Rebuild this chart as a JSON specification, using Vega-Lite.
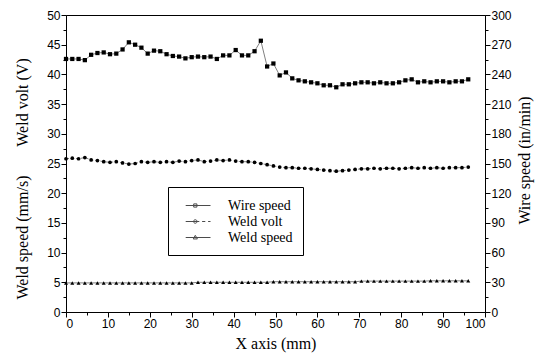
{
"$schema": "https://vega.github.io/schema/vega-lite/v6.json",
"autosize": "none",
"padding": {"left": 66, "top": 15, "right": 52, "bottom": 51},
"width": 419,
"height": 297,
"background": "white",
"config": {
  "view": {"stroke": "black", "strokeWidth": 1},
  "axis": {"domainColor": "black", "tickColor": "black", "labelColor": "black", "titleColor": "black", "labelFont": "Liberation Sans", "labelFontSize": 12, "titleFont": "Liberation Serif", "titleFontSize": 16, "titleFontWeight": "normal", "grid": false, "domainWidth": 1, "tickWidth": 1}
},
"data": {"values": [
{"x":0,"wire":255.6,"volt":25.8,"speed":4.9},
{"x":1.5,"wire":255.6,"volt":25.9,"speed":4.9},
{"x":3,"wire":255.6,"volt":25.8,"speed":4.9},
{"x":4.5,"wire":254.4,"volt":26.0,"speed":4.9},
{"x":6,"wire":259.8,"volt":25.6,"speed":4.9},
{"x":7.5,"wire":261.6,"volt":25.5,"speed":4.9},
{"x":9,"wire":262.2,"volt":25.3,"speed":4.9},
{"x":10.5,"wire":260.4,"volt":25.2,"speed":4.9},
{"x":12,"wire":261,"volt":25.3,"speed":4.9},
{"x":13.5,"wire":265.2,"volt":25.1,"speed":4.9},
{"x":15,"wire":272.4,"volt":24.9,"speed":4.9},
{"x":16.5,"wire":270,"volt":25.0,"speed":4.9},
{"x":18,"wire":267,"volt":25.3,"speed":4.9},
{"x":19.5,"wire":261,"volt":25.2,"speed":4.9},
{"x":21,"wire":264,"volt":25.3,"speed":4.9},
{"x":22.5,"wire":263.4,"volt":25.2,"speed":4.9},
{"x":24,"wire":260.4,"volt":25.3,"speed":4.9},
{"x":25.5,"wire":258.6,"volt":25.2,"speed":4.9},
{"x":27,"wire":258,"volt":25.4,"speed":4.9},
{"x":28.5,"wire":256.2,"volt":25.3,"speed":4.9},
{"x":30,"wire":257.4,"volt":25.5,"speed":4.9},
{"x":31.5,"wire":258,"volt":25.6,"speed":5.0},
{"x":33,"wire":257.4,"volt":25.3,"speed":5.0},
{"x":34.5,"wire":258,"volt":25.4,"speed":5.0},
{"x":36,"wire":255.6,"volt":25.6,"speed":5.0},
{"x":37.5,"wire":259.2,"volt":25.5,"speed":5.0},
{"x":39,"wire":259.2,"volt":25.6,"speed":5.0},
{"x":40.5,"wire":264.6,"volt":25.4,"speed":5.0},
{"x":42,"wire":259.2,"volt":25.3,"speed":5.0},
{"x":43.5,"wire":259.2,"volt":25.3,"speed":5.0},
{"x":45,"wire":263.4,"volt":25.2,"speed":5.0},
{"x":46.5,"wire":274,"volt":25.0,"speed":5.0},
{"x":48,"wire":248,"volt":24.8,"speed":5.0},
{"x":49.5,"wire":251,"volt":24.6,"speed":5.1},
{"x":51,"wire":239,"volt":24.4,"speed":5.1},
{"x":52.5,"wire":242,"volt":24.3,"speed":5.1},
{"x":54,"wire":236,"volt":24.3,"speed":5.1},
{"x":55.5,"wire":234,"volt":24.2,"speed":5.1},
{"x":57,"wire":233,"volt":24.2,"speed":5.1},
{"x":58.5,"wire":232,"volt":24.1,"speed":5.1},
{"x":60,"wire":231,"volt":24.0,"speed":5.1},
{"x":61.5,"wire":229,"volt":23.9,"speed":5.1},
{"x":63,"wire":229,"volt":23.8,"speed":5.1},
{"x":64.5,"wire":227,"volt":23.7,"speed":5.1},
{"x":66,"wire":230,"volt":23.8,"speed":5.1},
{"x":67.5,"wire":230,"volt":23.9,"speed":5.1},
{"x":69,"wire":231,"volt":24.0,"speed":5.1},
{"x":70.5,"wire":232,"volt":24.1,"speed":5.2},
{"x":72,"wire":232,"volt":24.1,"speed":5.2},
{"x":73.5,"wire":231,"volt":24.2,"speed":5.2},
{"x":75,"wire":232,"volt":24.1,"speed":5.2},
{"x":76.5,"wire":231,"volt":24.2,"speed":5.2},
{"x":78,"wire":231,"volt":24.2,"speed":5.2},
{"x":79.5,"wire":232,"volt":24.1,"speed":5.2},
{"x":81,"wire":234,"volt":24.2,"speed":5.2},
{"x":82.5,"wire":235,"volt":24.3,"speed":5.2},
{"x":84,"wire":232,"volt":24.2,"speed":5.2},
{"x":85.5,"wire":233,"volt":24.3,"speed":5.2},
{"x":87,"wire":232,"volt":24.2,"speed":5.25},
{"x":88.5,"wire":233,"volt":24.3,"speed":5.25},
{"x":90,"wire":233,"volt":24.2,"speed":5.25},
{"x":91.5,"wire":232,"volt":24.3,"speed":5.25},
{"x":93,"wire":233,"volt":24.3,"speed":5.25},
{"x":94.5,"wire":233,"volt":24.3,"speed":5.25},
{"x":96,"wire":235,"volt":24.4,"speed":5.25}
]},
"encoding": {
  "x": {"field": "x", "type": "quantitative", "scale": {"domain": [0, 100], "nice": false},
    "axis": {"values": [0,5,10,15,20,25,30,35,40,45,50,55,60,65,70,75,80,85,90,95,100], "format": "d",
      "labelExpr": "datum.value % 10 === 0 ? datum.label : ''",
      "tickSize": {"condition": {"test": "datum.value % 10 !== 0", "value": 3}, "value": 5},
      "labelPadding": 1, "title": "X axis (mm)", "titlePadding": 6}}
},
"layer": [
  {
    "encoding": {"y": {"field": "wire", "type": "quantitative", "scale": {"domain": [0, 300], "nice": false},
      "axis": {"orient": "right", "values": [0,15,30,45,60,75,90,105,120,135,150,165,180,195,210,225,240,255,270,285,300], "format": "d",
        "labelExpr": "datum.value % 30 === 0 ? datum.label : ''",
        "tickSize": {"condition": {"test": "datum.value % 30 !== 0", "value": 3}, "value": 5},
        "labelPadding": 1, "title": "Wire speed (in/min)", "titleAngle": -90, "titleX": 39, "titleY": 145, "titleBaseline": "middle", "titleAlign": "center"}}},
    "layer": [
      {"mark": {"type": "line", "color": "black", "strokeWidth": 0.5}},
      {"mark": {"type": "point", "filled": true, "color": "black", "size": 18, "opacity": 1, "shape": "square"}},
      {"mark": {"type": "point", "filled": false, "color": "black", "strokeWidth": 1, "size": 0},
       "encoding": {"shape": {"datum": "Wire speed",
         "scale": {"domain": ["Wire speed", "Weld volt", "Weld speed"],
           "range": ["M-0.1,0H3M0.9,-0.2H1.3V0.2H0.9Z", "M-0.1,0H1.6M1.95,0H2.35M2.7,0H3M0.88,0A0.22,0.22,0,1,1,1.32,0A0.22,0.22,0,1,1,0.88,0Z", "M-0.1,0H3M1.1,-0.27L1.36,0.18H0.84Z"]},
         "legend": {"orient": "none", "legendX": 102, "legendY": 172, "title": null, "direction": "vertical",
           "strokeColor": "black", "fillColor": "white", "padding": 10, "rowPadding": 0,
           "labelFont": "Liberation Serif", "labelFontSize": 14, "labelColor": "black", "labelOffset": 33,
           "symbolSize": 256, "symbolStrokeWidth": 1, "symbolStrokeColor": "black", "symbolFillColor": "black"}}}}
    ]
  },
  {
    "encoding": {"y": {"field": "volt", "type": "quantitative", "scale": {"domain": [0, 50], "nice": false},
      "axis": {"orient": "left", "values": [0,2.5,5,7.5,10,12.5,15,17.5,20,22.5,25,27.5,30,32.5,35,37.5,40,42.5,45,47.5,50], "format": "d",
        "labelExpr": "datum.value % 5 === 0 ? datum.label : ''",
        "tickSize": {"condition": {"test": "datum.value % 5 !== 0", "value": 3}, "value": 5},
        "labelPadding": 1, "title": "Weld volt (V)", "titleAngle": -90, "titleX": -44, "titleY": 87, "titleBaseline": "middle", "titleAlign": "center"}}},
    "layer": [
      {"mark": {"type": "line", "color": "black", "strokeWidth": 0.5, "strokeDash": [3, 2]}},
      {"mark": {"type": "point", "filled": true, "color": "black", "size": 14, "opacity": 1, "shape": "circle"}},
      {"mark": {"type": "point", "filled": false, "color": "black", "strokeWidth": 1, "size": 0},
       "encoding": {"shape": {"datum": "Weld volt"}}}
    ]
  },
  {
    "encoding": {"y": {"field": "speed", "type": "quantitative", "scale": {"domain": [0, 50], "nice": false},
      "axis": {"orient": "left", "labels": false, "ticks": false, "domain": false, "title": "Weld speed (mm/s)", "titleAngle": -90, "titleX": -44, "titleY": 222, "titleBaseline": "middle", "titleAlign": "center"}}},
    "layer": [
      {"mark": {"type": "line", "color": "black", "strokeWidth": 0.5}},
      {"mark": {"type": "point", "filled": true, "color": "black", "size": 16, "opacity": 1, "shape": "triangle-up"}},
      {"mark": {"type": "point", "filled": false, "color": "black", "strokeWidth": 1, "size": 0},
       "encoding": {"shape": {"datum": "Weld speed"}}}
    ]
  }
],
"resolve": {"scale": {"y": "independent"}}
}
